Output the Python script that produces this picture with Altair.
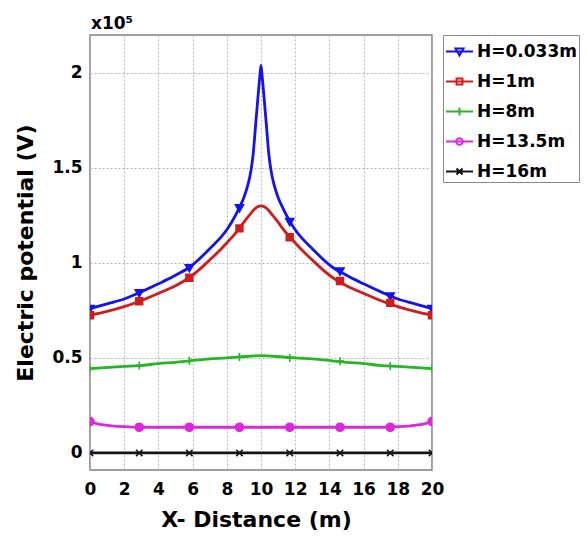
import altair as alt
import pandas as pd

series_names = ["H=0.033m", "H=1m", "H=8m", "H=13.5m", "H=16m"]
series_colors = ["#1212f2", "#d21c1c", "#22b822", "#dc28dc", "#141414"]

# line data (value in units of 1e5 V)
blue_x = [0, 1, 2, 2.93, 4, 5, 5.86, 7, 8, 8.3, 8.7, 9.0, 9.2, 9.42, 9.55, 9.68, 9.82, 9.94, 10,
          10.06, 10.18, 10.32, 10.45, 10.58, 10.8, 11.0, 11.3, 11.7, 12, 13, 14.14, 15, 16, 17.07, 18, 19, 20]
blue_y = [0.76, 0.785, 0.81, 0.845, 0.89, 0.935, 0.98, 1.075, 1.175, 1.217, 1.285, 1.345, 1.4, 1.49, 1.58, 1.72, 1.87, 1.99, 2.04,
          1.99, 1.87, 1.72, 1.58, 1.49, 1.4, 1.345, 1.285, 1.217, 1.175, 1.075, 0.98, 0.935, 0.89, 0.845, 0.81, 0.785, 0.76]

red_x = [0, 1, 2, 2.93, 4, 5, 5.86, 7, 8, 8.28, 8.74, 9, 9.4, 9.7, 10,
         10.3, 10.6, 11, 11.26, 11.72, 12, 13, 14.14, 15, 16, 17.07, 18, 19, 20]
red_y = [0.725, 0.745, 0.77, 0.80, 0.84, 0.88, 0.926, 1.015, 1.105, 1.133, 1.182, 1.215, 1.26, 1.29, 1.30,
         1.29, 1.26, 1.215, 1.182, 1.133, 1.105, 1.015, 0.926, 0.88, 0.84, 0.80, 0.77, 0.745, 0.725]

green_x = [0, 2, 2.93, 4, 5, 5.86, 7, 8, 8.74, 10, 11.26, 12, 13, 14.14, 15, 16, 17.07, 18, 20]
green_y = [0.444, 0.455, 0.46, 0.47, 0.477, 0.485, 0.495, 0.50, 0.505, 0.512, 0.505, 0.50, 0.495, 0.485, 0.477,
           0.47, 0.46, 0.455, 0.444]

magenta_x = [0, 0.5, 1, 2, 2.93, 5, 10, 15, 17.07, 18, 19, 19.5, 20]
magenta_y = [0.165, 0.152, 0.145, 0.138, 0.135, 0.135, 0.135, 0.135, 0.135, 0.138, 0.145, 0.152, 0.165]

black_x = [0, 20]
black_y = [0, 0]

# marker data
marker_x = [0, 2.88, 5.81, 8.74, 11.68, 14.62, 17.56, 20]
blue_marker_y = [0.76, 0.843, 0.975, 1.29, 1.218, 0.957, 0.826, 0.76]
red_marker_y = [0.725, 0.798, 0.922, 1.182, 1.135, 0.905, 0.79, 0.725]
green_marker_y = [0.444, 0.46, 0.485, 0.505, 0.50, 0.483, 0.458, 0.444]
magenta_marker_y = [0.165, 0.135, 0.135, 0.135, 0.135, 0.135, 0.135, 0.165]
black_marker_y = [0, 0, 0, 0, 0, 0, 0, 0]

x_ticks = [0, 2, 4, 6, 8, 10, 12, 14, 16, 18, 20]
y_ticks = [0, 0.5, 1, 1.5, 2]

marker_shapes = [
    "M-1,-0.75L1,-0.75L0,1Z",
    "M-0.85,-0.85H0.85V0.85H-0.85Z",
    "M-1,0H1M0,-1V1",
    "circle",
    "M-0.8,-0.8L0.8,0.8M-0.8,0.8L0.8,-0.8",
]
legend_shapes = [
    "M-1,0H1M-0.3,-0.22L0.3,-0.22L0,0.3Z",
    "M-1,0H1M-0.22,-0.22H0.22V0.22H-0.22Z",
    "M-1,0H1M0,-0.3V0.3",
    "M-1,0H1M0.24,0A0.24,0.24 0 1,1 -0.24,0A0.24,0.24 0 1,1 0.24,0Z",
    "M-1,0H1M-0.22,-0.22L0.22,0.22M-0.22,0.22L0.22,-0.22",
]

line_sets = [(blue_x, blue_y), (red_x, red_y), (green_x, green_y), (magenta_x, magenta_y), (black_x, black_y)]
marker_sets = [blue_marker_y, red_marker_y, green_marker_y, magenta_marker_y, black_marker_y]

line_rows = []
for name, (xs, ys) in zip(series_names, line_sets):
    for xv, yv in zip(xs, ys):
        line_rows.append({"series": name, "x": xv, "y": yv})
lines_df = pd.DataFrame(line_rows)

marker_rows = []
for name, ys in zip(series_names, marker_sets):
    for xv, yv in zip(marker_x, ys):
        marker_rows.append({"series": name, "x": xv, "y": yv})
markers_df = pd.DataFrame(marker_rows)

FONT = "DejaVu Sans"

x_enc = alt.X("x:Q", scale=alt.Scale(domain=[0, 20], nice=False),
              axis=alt.Axis(values=x_ticks, title="X- Distance (m)", labelPadding=11, titlePadding=12,
                            titleX=166, labelOverlap=False, labelFlush=False))
y_enc = alt.Y("y:Q", scale=alt.Scale(domain=[-0.09, 2.2], nice=False),
              axis=alt.Axis(values=y_ticks, format="~g", title="Electric potential (V)",
                            labelPadding=8, titlePadding=14, labelOverlap=False, labelFlush=False))

col_scale = alt.Scale(domain=series_names, range=series_colors)

lines = alt.Chart(lines_df).mark_line(interpolate="monotone", strokeWidth=2.8, clip=True).encode(
    x=x_enc, y=y_enc,
    color=alt.Color("series:N", scale=col_scale, legend=None),
)

points = alt.Chart(markers_df).mark_point(opacity=1, size=64, strokeWidth=1.6, clip=True).encode(
    x=x_enc, y=y_enc,
    fill=alt.Fill("series:N", scale=col_scale, legend=None),
    stroke=alt.Stroke("series:N", scale=col_scale, legend=None),
    shape=alt.Shape("series:N", scale=alt.Scale(domain=series_names, range=marker_shapes), legend=None),
)

leg = alt.Legend(title=None, orient="none", legendX=353, legendY=0,
                 strokeColor="#8a8a8a", fillColor="white", padding=2,
                 labelFont=FONT, labelFontWeight="bold", labelFontSize=17, labelColor="black",
                 labelOffset=3, rowPadding=7, symbolSize=729, symbolStrokeWidth=2, labelLimit=200)

legend_layer = alt.Chart(markers_df).mark_point(opacity=0, size=729, clip=True).encode(
    x=x_enc, y=y_enc,
    fill=alt.Fill("series:N", scale=col_scale, legend=leg),
    stroke=alt.Stroke("series:N", scale=col_scale, legend=leg),
    shape=alt.Shape("series:N", scale=alt.Scale(domain=series_names, range=legend_shapes), legend=leg),
)

chart = alt.layer(lines, points, legend_layer).resolve_scale(
    fill="independent", stroke="independent", shape="independent", color="independent"
).properties(
    width=342, height=435,
    title=alt.Title("x10\u2075", anchor="start", frame="group", fontSize=17, font=FONT,
                    fontWeight="bold", offset=2, dx=1),
    autosize=alt.AutoSizeParams(type="none"),
    padding={"left": 82, "top": 27, "right": 148, "bottom": 64},
).configure_view(
    stroke="#808080", strokeWidth=1.5
).configure_axis(
    labelFont=FONT, labelFontWeight="bold", labelFontSize=17, labelColor="black",
    titleFont=FONT, titleFontWeight="bold", titleFontSize=22, titleColor="black",
    ticks=False, domain=False, grid=True, gridDash=[2, 2], gridColor="#b4b4b4", gridWidth=1,
)

chart.save("out.html", embed_options={"renderer": "svg", "actions": False})
